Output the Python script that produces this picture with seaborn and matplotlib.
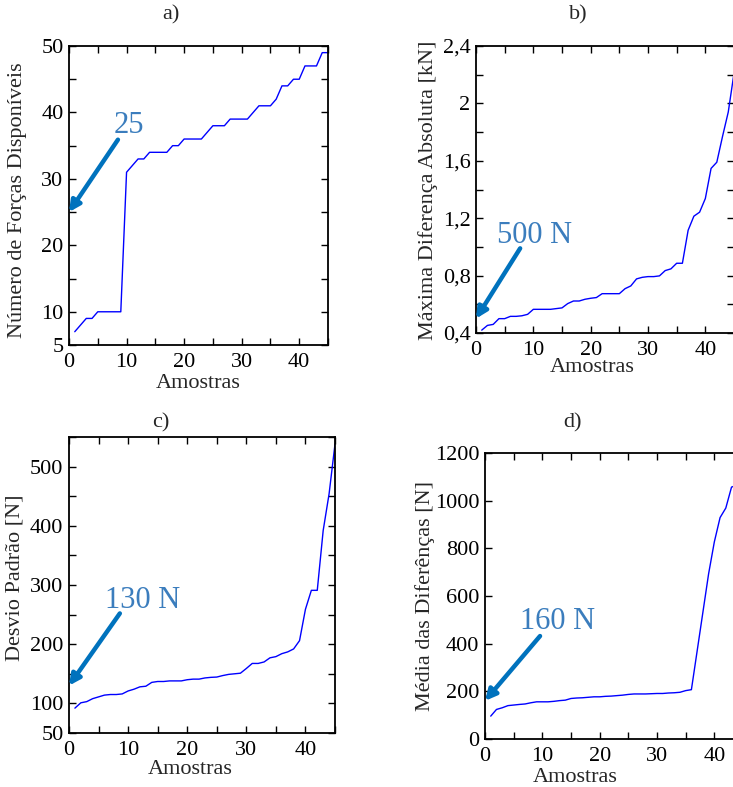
import numpy as np
import pandas as pd
import matplotlib
matplotlib.use("Agg")
import matplotlib.pyplot as plt
import seaborn as sns

# ---- data -----------------------------------------------------------------
amostras = list(range(1, 46))

forcas_disponiveis = [7, 8, 9, 9, 10, 10, 10, 10, 10, 31,
                      32, 33, 33, 34, 34, 34, 34, 35, 35, 36,
                      36, 36, 36, 37, 38, 38, 38, 39, 39, 39,
                      39, 40, 41, 41, 41, 42, 44, 44, 45, 45,
                      47, 47, 47, 49, 49]

max_dif_absoluta = [0.42, 0.453, 0.46, 0.50, 0.50, 0.516, 0.516, 0.52, 0.53, 0.565,
                    0.565, 0.565, 0.565, 0.57, 0.575, 0.605, 0.623, 0.623, 0.635, 0.642,
                    0.647, 0.674, 0.674, 0.674, 0.674, 0.709, 0.728, 0.777, 0.788, 0.793,
                    0.793, 0.798, 0.835, 0.847, 0.886, 0.886, 1.116, 1.214, 1.242, 1.337,
                    1.547, 1.59, 1.77, 1.94, 2.21]

desvio_padrao = [92, 101, 103, 108, 111, 114, 115, 115, 116, 121,
                 124, 128, 129, 135.5, 137, 137, 138, 138, 138, 140,
                 141, 141, 143, 144, 144.5, 147, 149, 150, 151, 159,
                 167.5, 167.5, 170, 177, 179, 184, 187, 192, 206, 259,
                 291, 291, 392, 454, 538]

media_diferencas = [96, 124, 131, 140, 142.5, 145, 147, 152, 156, 156,
                    156, 158, 161, 163, 170, 172, 173, 175, 177, 177,
                    179, 180, 182, 184, 187, 189, 189, 189, 190, 191,
                    191, 193, 194, 196, 203, 207, 369, 531, 693, 827,
                    929, 969, 1057, 1065, 1080]

# callout values (arrow tip sits on x = 0 at this value)
callout_a = 25
callout_b = 0.5
callout_c = 130
callout_d = 160

# ---- style ----------------------------------------------------------------
sns.set_theme(style="ticks")
plt.rcParams["font.family"] = ["Liberation Serif", "DejaVu Serif"]

W, H = 733, 787
fig = plt.figure(figsize=(W / 100, H / 100), dpi=100)


def px_axes(left, top, right, bottom):
    return fig.add_axes([left / W, 1 - bottom / H, (right - left) / W, (bottom - top) / H])


LINE = "#0000ff"
ARROW = "#0072bd"
CALL_TXT = "#3b7dbd"
FS = 16


def style_axes(ax, xlim, ylim, yticks, ylabels):
    ax.set_xlim(*xlim)
    ax.set_ylim(*ylim)
    xt = list(range(0, 46, 5))
    ax.set_xticks(xt)
    ax.set_xticklabels([str(v) if v % 10 == 0 else "" for v in xt])
    ax.set_yticks(yticks)
    ax.set_yticklabels(ylabels)
    ax.tick_params(direction="in", length=5, width=1, top=True, right=True,
                   labelsize=FS, colors="black")
    ax.tick_params(axis="x", pad=6)
    ax.tick_params(axis="y", pad=4)
    for s in ax.spines.values():
        s.set_visible(True)
        s.set_linewidth(1.3)
        s.set_color("black")
    ax.grid(False)
    ax.set_facecolor("white")


def callout(ax, text, tip, tail, txt_pos):
    ax.annotate("", xy=tip, xytext=tail,
                arrowprops=dict(arrowstyle="-|>", lw=3.2, color=ARROW,
                                mutation_scale=16, shrinkA=0, shrinkB=0),
                annotation_clip=False)
    ax.text(*txt_pos, text, fontsize=22, color=CALL_TXT, ha="center", va="center")


def place_labels(ax, box, xlab_px, ylab_px):
    """Put axis labels with their centres at given pixel positions."""
    left, top, right, bottom = box
    w, h = right - left, bottom - top
    ax.xaxis.label.set_va("center")
    ax.yaxis.label.set_va("center")
    ax.xaxis.set_label_coords((xlab_px[0] - left) / w, (bottom - xlab_px[1]) / h)
    ax.yaxis.set_label_coords((ylab_px[0] - left) / w, (bottom - ylab_px[1]) / h)


# ---- a) ----
box_a = (69, 46, 328, 345)
ax_a = px_axes(*box_a)
df_a = pd.DataFrame({"x": amostras, "y": forcas_disponiveis})
sns.lineplot(data=df_a, x="x", y="y", ax=ax_a, color=LINE, lw=1)
yt_a = list(range(5, 51, 5))
style_axes(ax_a, (0, 45), (5, 50), yt_a,
           [str(v) if (v % 10 == 0 or v == 5) else "" for v in yt_a])
callout(ax_a, str(callout_a), (0, callout_a), (8.5, 35.9), (10.4, 38.0))
ax_a.set_xlabel("Amostras", fontsize=FS)
ax_a.set_ylabel("Número de Forças Disponíveis", fontsize=FS)
place_labels(ax_a, box_a, (198, 384), (18, 200))

# ---- b) ----
box_b = (476, 46, 734, 333)
ax_b = px_axes(*box_b)
df_b = pd.DataFrame({"x": amostras, "y": max_dif_absoluta})
sns.lineplot(data=df_b, x="x", y="y", ax=ax_b, color=LINE, lw=1)
yt_b = [round(0.4 + 0.2 * i, 1) for i in range(11)]
lab_b = []
for v in yt_b:
    if round(v * 10) % 4 == 0:
        lab_b.append(("%g" % v).replace(".", ","))
    else:
        lab_b.append("")
style_axes(ax_b, (0, 45), (0.4, 2.4), yt_b, lab_b)
callout(ax_b, "%d N" % round(callout_b * 1000), (0, callout_b), (7.7, 0.99), (10.3, 1.08))
ax_b.set_xlabel("Amostras", fontsize=FS)
ax_b.set_ylabel("Máxima Diferença Absoluta [kN]", fontsize=FS)
place_labels(ax_b, box_b, (592, 368), (428, 190))

# ---- c) ----
box_c = (69, 437, 335, 733)
ax_c = px_axes(*box_c)
df_c = pd.DataFrame({"x": amostras, "y": desvio_padrao})
sns.lineplot(data=df_c, x="x", y="y", ax=ax_c, color=LINE, lw=1)
yt_c = list(range(50, 551, 50))
style_axes(ax_c, (0, 45), (50, 550), yt_c,
           [str(v) if (v % 100 == 0 or v == 50) and v <= 500 else "" for v in yt_c])
callout(ax_c, "%d N" % callout_c, (0, callout_c), (8.6, 252), (12.5, 273))
ax_c.set_xlabel("Amostras", fontsize=FS)
ax_c.set_ylabel("Desvio Padrão [N]", fontsize=FS)
place_labels(ax_c, box_c, (190, 770), (15, 578))

# ---- d) ----
box_d = (485, 453, 743, 739)
ax_d = px_axes(*box_d)
df_d = pd.DataFrame({"x": amostras, "y": media_diferencas})
sns.lineplot(data=df_d, x="x", y="y", ax=ax_d, color=LINE, lw=1)
yt_d = list(range(0, 1201, 200))
style_axes(ax_d, (0, 45), (0, 1200), yt_d, [str(v) for v in yt_d])
callout(ax_d, "%d N" % callout_d, (0, callout_d), (9.6, 432), (12.7, 491))
ax_d.set_xlabel("Amostras", fontsize=FS)
ax_d.set_ylabel("Média das Diferênças [N]", fontsize=FS)
place_labels(ax_d, box_d, (575, 777), (425, 596))

# panel letters
for lbl, (px, py) in zip(["a)", "b)", "c)", "d)"],
                         [(171, 15), (578, 15), (161, 423), (572, 423)]):
    fig.text(px / W, 1 - py / H, lbl, fontsize=FS, ha="center", va="center")

fig.savefig("out.png", dpi=100, facecolor="white")
